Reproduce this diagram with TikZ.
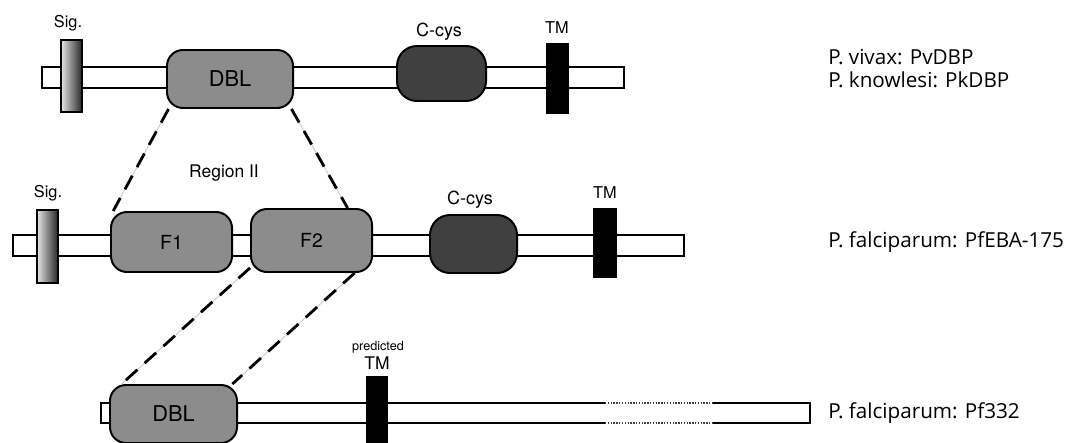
\documentclass[tikz,border=0pt]{standalone}
\usepackage{fontspec}
\setsansfont{TeX Gyre Heros}
\newfontfamily\speciesfont{Open Sans}
\tikzset{
    backbone/.style={draw=black, fill=white, line width=1.1pt, minimum height=0.525cm, inner sep=0pt},
    dombox/.style={draw=black, fill=black!45, line width=1.4pt, rounded corners=0.4cm, inner sep=0pt,
        font=\sffamily\fontsize{15.5}{17}\selectfont},
    cysbox/.style={draw=black, fill=black!75, line width=1.4pt, rounded corners=0.5cm, inner sep=0pt},
    tmbox/.style={fill=black, minimum width=0.575cm, minimum height=1.775cm, inner sep=0pt},
    sigbox/.style={draw=black, line width=1.1pt, left color=black!10, right color=black!85,
        minimum width=0.525cm, inner sep=0pt},
    homolink/.style={draw=black, line width=2pt, dash pattern=on 11pt off 7pt,
        preaction={draw=black!25, line width=0.5pt, solid}},
    tagtext/.style={font=\sffamily\fontsize{11.6}{13}\selectfont, inner sep=0pt},
    species/.style={font=\speciesfont\fontsize{14.7}{17}\selectfont, anchor=west, inner sep=0pt}
}
\begin{document}
\begin{tikzpicture}[x=0.025cm, y=-0.025cm]
\useasboundingbox (0,0) rectangle (1066,442);
% PvDBP / PkDBP
\node[backbone, minimum width=14.55cm] (bba) at (333,77.5) {};
\node[sigbox, minimum height=1.8cm] (siga) at (71.5,76) {};
\node[dombox, minimum width=3.15cm, minimum height=1.45cm] (dbla) at (230,79) {DBL};
\node[cysbox, minimum width=2.225cm, minimum height=1.375cm] (cysa) at (441.5,73.5) {};
\node[tmbox] (tma) at (557.5,78.5) {};
\node[tagtext] (sigtaga) at (68,23) {Sig.};
\node[tagtext, font=\sffamily\fontsize{12.8}{14}\selectfont] (cystaga) at (439,32) {C-cys};
\node[tagtext] (tmtaga) at (557,28) {TM};
% PfEBA-175
\node[backbone, minimum width=16.775cm] (bbb) at (348.5,245.5) {};
\node[sigbox, minimum height=1.825cm] (sigb) at (47.5,246.5) {};
\node[dombox, font=\sffamily\fontsize{13.8}{15}\selectfont, minimum width=3.025cm, minimum height=1.5cm] (f1) at (171.5,242) {F1};
\node[dombox, font=\sffamily\fontsize{13.8}{15}\selectfont, minimum width=3.025cm, minimum height=1.575cm] (f2) at (311.5,240.5) {F2};
\node[cysbox, minimum width=2.175cm, minimum height=1.45cm] (cysb) at (473.5,244) {};
\node[tmbox, minimum width=0.6cm, minimum height=1.75cm] (tmb) at (605,243) {};
\node[tagtext] (sigtagb) at (48,193) {Sig.};
\node[tagtext, font=\sffamily\fontsize{12.4}{14}\selectfont] (regiontag) at (224,173) {Region II};
\node[tagtext, font=\sffamily\fontsize{12.8}{14}\selectfont] (cystagb) at (470,200) {C-cys};
\node[tagtext] (tmtagb) at (605,193) {TM};
% Pf332
\node[backbone, minimum width=17.725cm, minimum height=0.5cm] (bbc) at (455.5,413) {};
\fill[white] (605,401) rectangle (712,425);
\draw[black!75, line width=1pt, densely dotted] (605,403) -- (712,403) (605,423) -- (712,423);
\node[dombox, minimum width=3.175cm, minimum height=1.45cm] (dblc) at (173.5,414) {DBL};
\node[tmbox, minimum width=0.55cm, minimum height=1.75cm] (tmc) at (377,411) {};
\node[tagtext, font=\sffamily\fontsize{9}{10}\selectfont] (predtag) at (378,347) {predicted};
\node[tagtext, font=\sffamily\fontsize{12.4}{14}\selectfont] (tmtagc) at (377,363) {TM};
% homologous regions
\draw[homolink] (dbla.206) -- (f1.152);
\draw[homolink] (dbla.334) -- (f2.42);
\draw[homolink] (f2.204) -- (dblc.150);
\draw[homolink] (f2.323) -- (dblc.27);
% species
\node[species] (pv) at (828,57) {P. vivax: PvDBP};
\node[species] (pk) at (828,80) {P. knowlesi: PkDBP};
\node[species] (pf) at (828,242) {P. falciparum: PfEBA-175};
\node[species] (pf332) at (828,413) {P. falciparum: Pf332};
\end{tikzpicture}
\end{document}
